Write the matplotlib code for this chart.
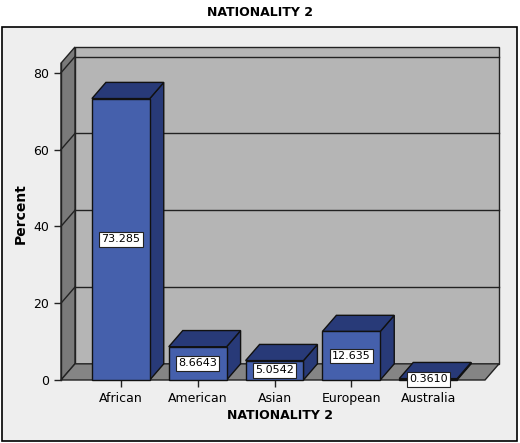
import matplotlib
matplotlib.use("Agg")
import matplotlib.pyplot as plt
from matplotlib.patches import Polygon, Rectangle

categories = ["African", "American", "Asian", "European", "Australia"]
values = [73.285, 8.6643, 5.0542, 12.635, 0.3610]
labels = ["73.285", "8.6643", "5.0542", "12.635", "0.3610"]
yticks = [0, 20, 40, 60, 80]

fig = plt.figure(figsize=(5.2, 4.43), dpi=100)
fig.patch.set_facecolor("white")
fig.patches.append(Rectangle((2/520, 2/443), 515/520, 414/443, transform=fig.transFigure,
                             facecolor="#eeeeee", edgecolor="black", lw=1.2, zorder=-10))
fig.text(0.5, 1 - 12/443, "NATIONALITY 2", ha="center", va="center", fontsize=9, fontweight="bold")

ax = fig.add_axes([61/520, 63/443, 438/520, 333/443])
ax.set_facecolor("none")
for s in ax.spines.values():
    s.set_visible(False)

xl, xr = -0.779, 4.922
yfront_top = 82.5
dx, dy = 0.182, 4.21
ytop = yfront_top + dy
ax.set_xlim(xl, xr)
ax.set_ylim(0, ytop)

wall_c, side_c, floor_c = "#b5b5b5", "#7a7a7a", "#858585"
ax.add_patch(Polygon([(xl + dx, dy), (xr, dy), (xr, ytop), (xl + dx, ytop)], closed=True,
                     facecolor=wall_c, edgecolor="#222222", lw=1, zorder=0, clip_on=False))
ax.add_patch(Polygon([(xl, 0), (xl + dx, dy), (xl + dx, ytop), (xl, yfront_top)], closed=True,
                     facecolor=side_c, edgecolor="#222222", lw=1, zorder=0, clip_on=False))
ax.add_patch(Polygon([(xl, 0), (xl + dx, dy), (xr, dy), (xr - dx, 0)], closed=True,
                     facecolor=floor_c, edgecolor="#222222", lw=1, zorder=0, clip_on=False))
for v in yticks[1:]:
    ax.plot([xl + dx, xr], [v + dy, v + dy], color="#222222", lw=1, zorder=1, clip_on=False)
    ax.plot([xl, xl + dx], [v, v + dy], color="#222222", lw=1, zorder=1, clip_on=False)
ax.plot([xl, xl], [0, yfront_top], color="#222222", lw=1, zorder=1, clip_on=False)

w = 0.753
front_c, top_c = "#4560ac", "#283a78"
xs = list(range(len(categories)))
for x, v, lab in zip(xs, values, labels):
    x0, x1 = x - w / 2, x + w / 2
    ax.add_patch(Polygon([(x1, 0), (x1 + dx, dy), (x1 + dx, v + dy), (x1, v)], closed=True,
                         facecolor=top_c, edgecolor="#111111", lw=1, zorder=3, clip_on=False))
    ax.add_patch(Polygon([(x0, v), (x0 + dx, v + dy), (x1 + dx, v + dy), (x1, v)], closed=True,
                         facecolor=top_c, edgecolor="#111111", lw=1, zorder=3, clip_on=False))
    ax.bar(x, v, width=w, color=front_c, edgecolor="#111111", lw=1, zorder=4, clip_on=False)
    ax.text(x, v / 2, lab, ha="center", va="center", fontsize=8, zorder=6,
            bbox=dict(boxstyle="square,pad=0.2", facecolor="white", edgecolor="#222222", lw=0.8))

ax.set_xticks(xs)
ax.set_xticklabels(categories, fontsize=9)
ax.set_yticks(yticks)
ax.set_yticklabels([str(t) for t in yticks], fontsize=9)
ax.tick_params(length=5, width=1, color="#222222")
ax.set_xlabel("NATIONALITY 2", fontsize=9, fontweight="bold", labelpad=3)
ax.set_ylabel("Percent", fontsize=10, fontweight="bold", labelpad=4)

fig.savefig("out.png", dpi=100)
